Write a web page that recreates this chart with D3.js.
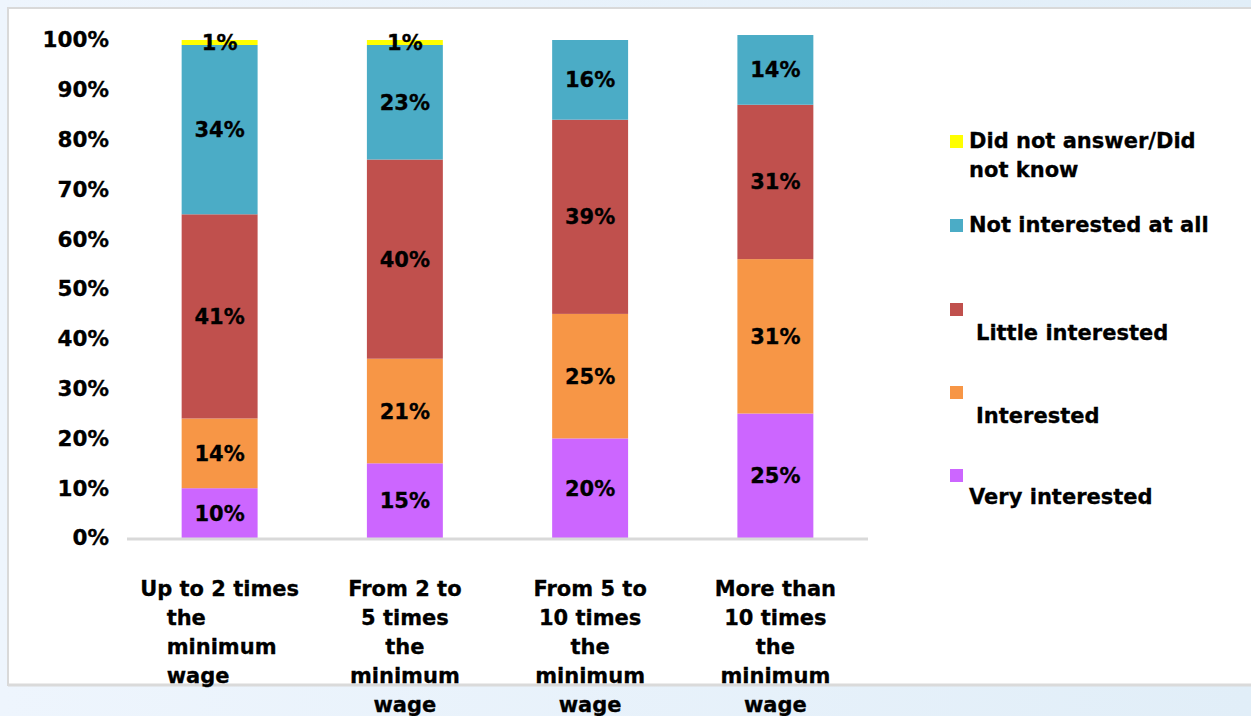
<!DOCTYPE html>
<html>
<head>
<meta charset="utf-8">
<script src="https://cdn.jsdelivr.net/npm/d3@7"></script>
<style>
  html, body { margin: 0; padding: 0; }
  body { width: 1251px; height: 716px; overflow: hidden; }
  svg text { font-family: "DejaVu Sans", Verdana, sans-serif; font-weight: bold; fill: #000; stroke: #000; stroke-width: 0.3px; }
</style>
</head>
<body>
<svg id="chart" width="1251" height="716"></svg>
<script>
// Income groups (x categories), each label split into its printed lines
const categories = ["c1", "c2", "c3", "c4"];
const categoryLines = [
  ["Up to 2 times", "the", "minimum", "wage"],
  ["From 2 to", "5 times", "the", "minimum", "wage"],
  ["From 5 to", "10 times", "the", "minimum", "wage"],
  ["More than", "10 times", "the", "minimum", "wage"]
];

// Response series, stacked bottom to top
const seriesNames = ["Very interested", "Interested", "Little interested", "Not interested at all", "Did not answer/Did not know"];
const seriesColors = ["#CC66FF", "#F79646", "#C0504D", "#4BACC6", "#FFFF00"];

// Percentages per category for each series
const veryInterested   = [10, 15, 20, 25];
const interested       = [14, 21, 25, 31];
const littleInterested = [41, 40, 39, 31];
const notInterested    = [34, 23, 16, 14];
const didNotAnswer     = [1, 1, 0, 0];

const yTicks = [0, 10, 20, 30, 40, 50, 60, 70, 80, 90, 100];

const seriesValues = [veryInterested, interested, littleInterested, notInterested, didNotAnswer];
const rows = categories.map((c, i) => {
  const r = { category: c };
  seriesNames.forEach((s, k) => { r[s] = seriesValues[k][i]; });
  return r;
});

const svg = d3.select("#chart");

// page background and white panel
const defs = svg.append("defs");
const grad = defs.append("linearGradient").attr("id", "bg").attr("x1", "0").attr("x2", "1").attr("y1", "0").attr("y2", "0");
grad.append("stop").attr("offset", "0").attr("stop-color", "#EEF5FD");
grad.append("stop").attr("offset", "1").attr("stop-color", "#E1EEF8");
svg.append("rect").attr("width", 1251).attr("height", 716).attr("fill", "url(#bg)");
svg.append("rect").attr("x", 8).attr("y", 8).attr("width", 1260).attr("height", 677)
  .attr("fill", "#fff").attr("stroke", "#D9D9D9").attr("stroke-width", 2);
svg.append("line").attr("x1", 8).attr("x2", 1251).attr("y1", 685).attr("y2", 685)
  .attr("stroke", "#DADADA").attr("stroke-width", 3);

const x = d3.scaleBand().domain(categories).range([127, 868]).paddingInner(0.59).paddingOuter(0.295);
const y = d3.scaleLinear().domain([0, 100]).range([538, 40]);

const stack = d3.stack().keys(seriesNames);
const layers = stack(rows);

// stacked bars
const g = svg.append("g");
layers.forEach((layer, k) => {
  g.selectAll(null).data(layer).enter().append("rect")
    .attr("x", d => x(d.data.category))
    .attr("y", d => y(d[1]))
    .attr("width", x.bandwidth())
    .attr("height", d => y(d[0]) - y(d[1]))
    .attr("fill", seriesColors[k]);
});

// value labels
layers.forEach((layer) => {
  g.selectAll(null).data(layer.filter(d => d[1] - d[0] > 0)).enter().append("text")
    .attr("x", d => x(d.data.category) + x.bandwidth() / 2)
    .attr("y", d => y((d[0] + d[1]) / 2))
    .attr("dy", "0.36em")
    .attr("text-anchor", "middle")
    .style("font-size", "21px")
    .text(d => (d[1] - d[0]) + "%");
});

// baseline
svg.append("line").attr("x1", 127).attr("x2", 868).attr("y1", y(0) + 1).attr("y2", y(0) + 1)
  .attr("stroke", "#D9D9D9").attr("stroke-width", 3);

// y axis labels
const yAxis = d3.axisLeft(y).tickValues(yTicks).tickSize(0).tickPadding(0).tickFormat(d => d + "%");
const ya = svg.append("g").attr("transform", "translate(109,0)").call(yAxis);
ya.select(".domain").remove();
ya.selectAll("text").style("font-size", "21.5px").style("font-family", "DejaVu Sans, sans-serif")
  .style("font-weight", "bold").attr("fill", "#000");

// x axis labels
const xl = svg.append("g");
categoryLines.forEach((lines, i) => {
  const cx = x(categories[i]) + x.bandwidth() / 2;
  const t = xl.append("text").style("font-size", "21px");
  lines.forEach((ln, j) => {
    const indent = i === 0 && j > 0;
    t.append("tspan")
      .attr("x", indent ? cx - 53 : cx)
      .attr("text-anchor", indent ? "start" : "middle")
      .attr("y", 596 + j * 29)
      .text(ln);
  });
});

// legend
const legendItems = [
  { k: 4, sy: 141, lines: ["Did not answer/Did", "not know"], ty: 148, tx: 969 },
  { k: 3, sy: 225, lines: ["Not interested at all"], ty: 232, tx: 969 },
  { k: 2, sy: 309, lines: ["Little interested"], ty: 340, tx: 976 },
  { k: 1, sy: 392, lines: ["Interested"], ty: 423, tx: 976 },
  { k: 0, sy: 475, lines: ["Very interested"], ty: 504, tx: 969 }
];
const lg = svg.append("g");
legendItems.forEach(it => {
  lg.append("rect").attr("x", 950).attr("y", it.sy - 6).attr("width", 13).attr("height", 13)
    .attr("fill", seriesColors[it.k]);
  const t = lg.append("text").style("font-size", "21px");
  it.lines.forEach((ln, j) => {
    t.append("tspan").attr("x", it.tx).attr("y", it.ty + j * 29).text(ln);
  });
});
</script>
</body>
</html>
